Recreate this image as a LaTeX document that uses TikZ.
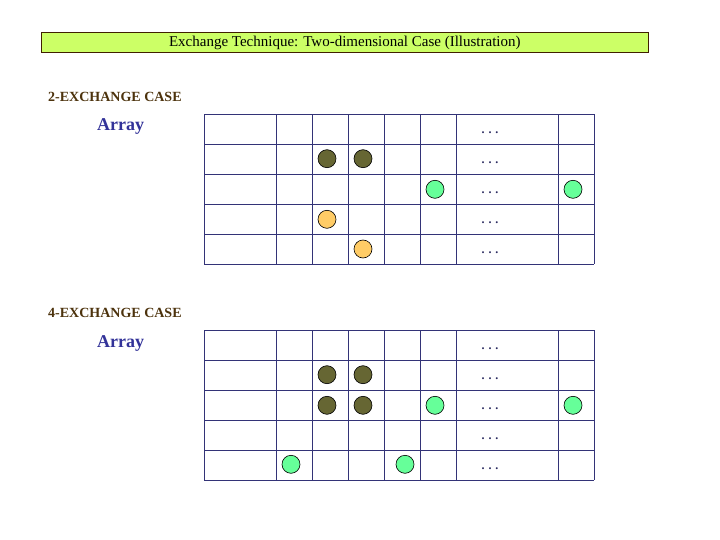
\documentclass[tikz,border=0pt]{standalone}
\usepackage{fontspec}
\setmainfont{Liberation Serif}
\usetikzlibrary{positioning}
\definecolor{titlefill}{RGB}{204, 255, 102}
\definecolor{titleedge}{RGB}{64, 32, 0}
\definecolor{casebrown}{RGB}{77, 51, 13}
\definecolor{arrayblue}{RGB}{51, 51, 153}
\definecolor{gridnavy}{RGB}{51, 51, 119}
\definecolor{olivedot}{RGB}{102, 102, 51}
\definecolor{greendot}{RGB}{102, 255, 153}
\definecolor{orangedot}{RGB}{255, 204, 102}

\begin{document}
\begin{tikzpicture}[
        x=1pt, y=-1pt,
        gridline/.style={draw=gridnavy, line width=1pt},
        cell/.style={circle, draw=black, line width=0.6pt, minimum size=18pt, inner sep=0pt},
        olive/.style={cell, fill=olivedot},
        green/.style={cell, fill=greendot},
        orange/.style={cell, fill=orangedot},
        casetitle/.style={font=\fontsize{14}{16}\selectfont\bfseries, text=casebrown, anchor=west, inner sep=0pt},
        arraylabel/.style={font=\fontsize{18}{20}\selectfont\bfseries, text=arrayblue, anchor=west, inner sep=0pt},
        dotsep/.style={font=\fontsize{12}{14}\selectfont\bfseries, text=gridnavy!80!black, anchor=base, inner sep=0pt}
    ]
    \useasboundingbox (0,0) rectangle (720,540);
    \fill[white] (0,0) rectangle (720,540);

    % title bar
    \draw[fill=titlefill, draw=titleedge, line width=1pt] (41.3,32.3) rectangle (648.3,52.7);
    \node[font=\fontsize{15}{17}\selectfont, inner sep=0pt] (title) at (344.8,43) {Exchange Technique: Two-dimensional Case (Illustration)};

    % 2-exchange case
    \node[casetitle] (case2) at (48,97) {2-EXCHANGE CASE};
    \node[arraylabel] (array2) at (97,127) {Array};
    \foreach \x in {204.3,276.3,312.3,348.3,384.3,420.3,456.3,558.3,594.3}
        \draw[gridline] (\x,114.3) -- (\x,264.3);
    \foreach \y in {114.3,144.3,174.3,204.3,234.3,264.3}
        \draw[gridline] (204.3,\y) -- (594.3,\y);
    \foreach \y [count=\i] in {129.3,159.3,189.3,219.3,249.3}
        \node[dotsep] (dotsa\i) at (490,\y+4.5) {.\,\,.\,\,.};
    \node[olive] (a1) at (327,158.7) {};
    \node[olive] (a2) at (363,158.7) {};
    \node[green] (a3) at (435,189.3) {};
    \node[green] (a4) at (573,189.3) {};
    \node[orange] (a5) at (327,219.3) {};
    \node[orange] (a6) at (363,249) {};

    % 4-exchange case
    \node[casetitle] (case4) at (48,313) {4-EXCHANGE CASE};
    \node[arraylabel] (array4) at (97,343) {Array};
    \foreach \x in {204.3,276.3,312.3,348.3,384.3,420.3,456.3,558.3,594.3}
        \draw[gridline] (\x,330.3) -- (\x,480.3);
    \foreach \y in {330.3,360.3,390.3,420.3,450.3,480.3}
        \draw[gridline] (204.3,\y) -- (594.3,\y);
    \foreach \y [count=\i] in {345.3,375.3,405.3,435.3,465.3}
        \node[dotsep] (dotsb\i) at (490,\y+4.5) {.\,\,.\,\,.};
    \node[olive] (b1) at (327,374.7) {};
    \node[olive] (b2) at (363,374.7) {};
    \node[olive] (b3) at (327,405.3) {};
    \node[olive] (b4) at (363,405.3) {};
    \node[green] (b5) at (435,405.3) {};
    \node[green] (b6) at (573,405.3) {};
    \node[green] (b7) at (291,464.3) {};
    \node[green] (b8) at (405,464.3) {};
\end{tikzpicture}
\end{document}
